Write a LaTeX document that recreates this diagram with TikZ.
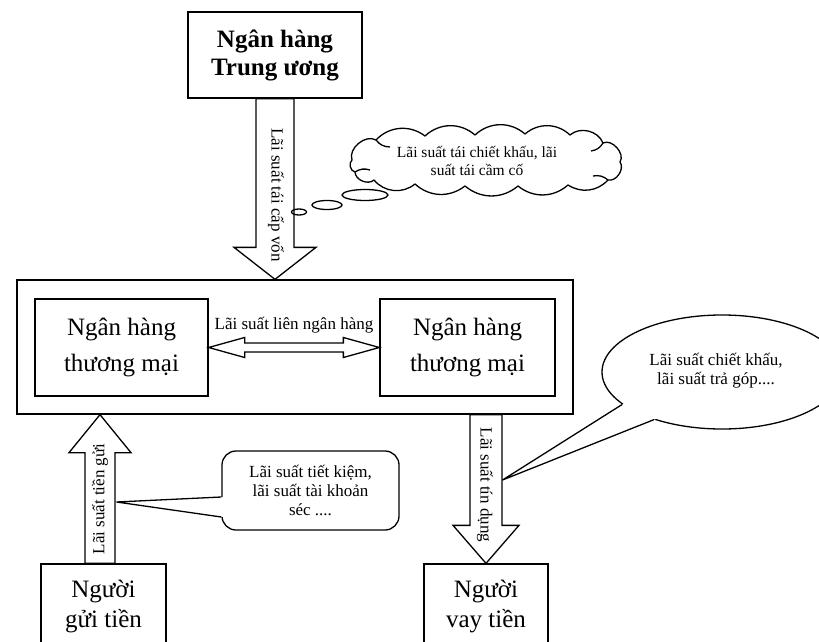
\documentclass[tikz,border=0pt]{standalone}
\usepackage{fontspec}
\setmainfont{Liberation Serif}
\usetikzlibrary{shapes.geometric,calc}
\begin{document}
\begin{tikzpicture}[x=1pt,y=-1pt, line width=1.3pt, line join=miter,
  box/.style={draw, rectangle, inner sep=0pt, align=center},
  bigtxt/.style={font=\fontsize{25}{36}\selectfont},
  persontxt/.style={font=\fontsize{25}{30}\selectfont},
  smalltxt/.style={font=\fontsize{17}{19}\selectfont, inner sep=0pt, align=center},
  cloudtxt/.style={font=\fontsize{15.5}{18}\selectfont, inner sep=0pt, align=center},
  blk/.style={draw, fill=white, line join=miter},
  bubble/.style={draw, ellipse, inner sep=0pt},
  puff/.style={bend left=#1}
]
\useasboundingbox (0,0) rectangle (819,642);

% boxes
\node[box, minimum width=174pt, minimum height=86pt, font=\bfseries\fontsize{25}{28}\selectfont] (cb) at (275,55) {Ngân hàng\\Trung ương};
\node[box, minimum width=556pt, minimum height=134pt] (outer) at (295,347) {};
\node[box, bigtxt, minimum width=173pt, minimum height=97pt] (nh1) at (121.5,347.5) {Ngân hàng\\thương mại};
\node[box, bigtxt, minimum width=175pt, minimum height=97pt] (nh2) at (467.5,347.5) {Ngân hàng\\thương mại};
\node[box, persontxt, minimum width=125pt, minimum height=84pt] (gui) at (103.5,606) {Người\\gửi tiền};
\node[box, persontxt, minimum width=124pt, minimum height=84pt] (vay) at (486,606) {Người\\vay tiền};

% block arrow: central bank -> commercial banks
\draw[blk] let \p1=(cb.south), \p2=(outer.north) in
  (\x1-19pt,\y1) -- (\x1-19pt,\y2+32pt) -- (\x1-41pt,\y2+32pt) -- (\x1,\y2)
  -- (\x1+41pt,\y2+32pt) -- (\x1+19pt,\y2+32pt) -- (\x1+19pt,\y1) -- cycle;
% block arrow: depositors -> banks (up)
\draw[blk] let \p1=($(gui.north)+(-3.5,0)$), \p2=(outer.south) in
  (\x1-15pt,\y1) -- (\x1-15pt,\y2-38pt) -- (\x1-31pt,\y2-38pt) -- (\x1,\y2)
  -- (\x1+31pt,\y2-38pt) -- (\x1+15pt,\y2-38pt) -- (\x1+15pt,\y1) -- cycle;
% block arrow: banks -> borrowers (down)
\draw[blk] let \p1=(vay.north), \p2=(outer.south) in
  (\x1-16pt,\y2) -- (\x1-16pt,\y1+38pt) -- (\x1-33pt,\y1+38pt) -- (\x1,\y1)
  -- (\x1+33pt,\y1+38pt) -- (\x1+16pt,\y1+38pt) -- (\x1+16pt,\y2) -- cycle;
% double block arrow between commercial banks
\draw[blk] let \p1=(nh1.east), \p2=(nh2.west) in
  (\x1,\y1) -- (\x1+36pt,\y1+10pt) -- (\x1+36pt,\y1+4.5pt) -- (\x2-36pt,\y1+4.5pt)
  -- (\x2-36pt,\y1+10pt) -- (\x2,\y1) -- (\x2-36pt,\y1-10pt) -- (\x2-36pt,\y1-4.5pt)
  -- (\x1+36pt,\y1-4.5pt) -- (\x1+36pt,\y1-10pt) -- cycle;

% arrow labels
\node[smalltxt, rotate=-90] (t1) at (276,195) {Lãi suất tái cấp vốn};
\node[smalltxt, rotate=90] (t2) at (100,499) {Lãi suất tiền gửi};
\node[smalltxt, rotate=-90] (t3) at (485,485) {Lãi suất tín dụng};
\node[smalltxt] (t4) at (294,325) {Lãi suất liên ngân hàng};

% thought cloud (drawn directly)
\draw[fill=white, line join=round]
  (352,160) to[puff=70] (376,140) to[puff=42] (425,136) to[puff=42] (475,135)
  to[puff=42] (525,134) to[puff=42] (570,135) to[puff=55] (603,143)
  to[puff=75] (620,162) to[puff=70] (608,180) to[puff=40] (568,185)
  to[puff=40] (518,186) to[puff=40] (465,186) to[puff=40] (415,184)
  to[puff=45] (374,180) to[puff=65] (355,172) to[puff=65] cycle;
% small inner hooks of the cloud
\draw (376,140) to[bend right=25] (390,147);
\draw (355,172) to[bend left=25] (370,170);
\draw (603,143) to[bend left=25] (591,151);
\draw (608,180) to[bend right=25] (593,176);
\node[cloudtxt] (cloudt) at (477,161) {Lãi suất tái chiết khấu, lãi\\suất tái cầm cố};
\node[bubble, minimum width=46pt, minimum height=11pt] (b1) at (365,195) {};
\node[bubble, minimum width=30pt, minimum height=9pt] (b2) at (327,205) {};
\node[bubble, minimum width=15pt, minimum height=6pt] (b3) at (299,212) {};

% rectangular callout
\node[draw, rectangle, rounded corners=14pt, minimum width=177pt, minimum height=79pt,
      smalltxt] (cal) at (310.5,490.5) {Lãi suất tiết kiệm,\\lãi suất tài khoản\\séc ....};
\coordinate (p1) at (116.5,502);
\fill[white] (p1) -- ($(cal.west)+(2,6.5)$) -- ($(cal.west)+(2,26.5)$) -- cycle;
\draw[line join=miter] ($(cal.west)+(0,6.5)$) -- (p1) -- ($(cal.west)+(0,26.5)$);

% elliptic callout
\node[draw, ellipse, minimum width=240pt, minimum height=114pt, inner sep=0pt] (ell) at (722,372) {};
\node[smalltxt] (ellt) at (716,371) {Lãi suất chiết khấu,\\lãi suất trả góp....};
\coordinate (p2) at (502.5,480);
\fill[white] (p2) -- ($(ell.198.4)!-3pt!(p2)$) -- ($(ell.215.4)!-3pt!(p2)$) -- cycle;
\draw[line join=miter] (ell.198.4) -- (p2) -- (ell.215.4);
\end{tikzpicture}
\end{document}
